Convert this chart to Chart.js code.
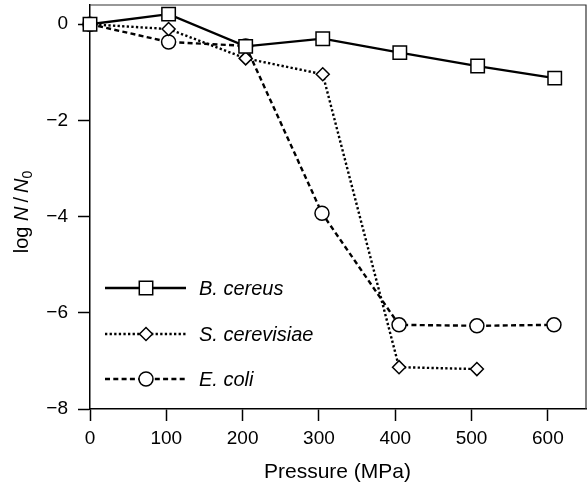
<!DOCTYPE html>
<html><head><meta charset="utf-8">
<script src="https://cdn.jsdelivr.net/npm/chart.js@4/dist/chart.umd.min.js"></script>
<style>html,body{margin:0;padding:0;background:#fff}canvas{display:block}</style>
</head><body>
<canvas id="c" width="587" height="483"></canvas>
<script>
const seriesNames = ['B. cereus', 'S. cerevisiae', 'E. coli'];
const bcPressure = [0, 103, 204, 305, 406, 508, 609];
const bcLogN     = [0, 0.21, -0.46, -0.30, -0.59, -0.87, -1.12];
const scPressure = [0, 103, 204, 305, 405, 507];
const scLogN     = [0, -0.10, -0.71, -1.04, -7.13, -7.17];
const ecPressure = [0, 103, 204, 304, 405, 507, 608];
const ecLogN     = [0, -0.37, -0.45, -3.93, -6.25, -6.27, -6.25];
const xTicks = [0, 100, 200, 300, 400, 500, 600];
const yTicks = [-8, -6, -4, -2, 0];

const FONT = '"Liberation Sans", Arial, sans-serif';
const pts = (xs, ys) => xs.map((x, i) => ({x: x, y: ys[i]}));

const styles = [
  {dash: [], style: 'rect', r: 9.5},
  {dash: [2.3, 2.3], style: 'rectRot', r: 6.5},
  {dash: [5, 3.3], style: 'circle', r: 7}
];
const series = [pts(bcPressure, bcLogN), pts(scPressure, scLogN), pts(ecPressure, ecLogN)];

const datasets = series.map((d, i) => ({
  label: seriesNames[i],
  data: d,
  borderColor: '#000',
  borderWidth: 2.4,
  borderDash: styles[i].dash,
  pointStyle: styles[i].style,
  pointRadius: styles[i].r,
  pointHoverRadius: styles[i].r,
  pointBackgroundColor: '#fff',
  pointBorderColor: '#000',
  pointBorderWidth: 1.5,
  fill: false,
  tension: 0,
  clip: false
}));

function drawMarker(ctx, style, x, y, r) {
  ctx.beginPath();
  if (style === 'rect') {
    const s = r * Math.SQRT1_2;
    ctx.rect(x - s, y - s, 2 * s, 2 * s);
  } else if (style === 'rectRot') {
    ctx.moveTo(x - r, y); ctx.lineTo(x, y - r); ctx.lineTo(x + r, y); ctx.lineTo(x, y + r); ctx.closePath();
  } else {
    ctx.arc(x, y, r, 0, Math.PI * 2);
  }
  ctx.fillStyle = '#fff'; ctx.fill();
  ctx.lineWidth = 1.5; ctx.strokeStyle = '#000'; ctx.setLineDash([]); ctx.stroke();
}

const framePlugin = {
  id: 'frame',
  beforeDatasetsDraw(chart) {
    const {ctx, chartArea: a} = chart;
    ctx.save();
    ctx.strokeStyle = '#333'; ctx.lineWidth = 1.2;
    ctx.beginPath();
    ctx.moveTo(a.left, a.top); ctx.lineTo(a.right, a.top); ctx.lineTo(a.right, a.bottom);
    ctx.stroke();
    ctx.restore();
  }
};

const legendPlugin = {
  id: 'inlegend',
  afterDatasetsDraw(chart) {
    const ctx = chart.ctx;
    const rows = [288, 334, 379];
    ctx.save();
    chart.data.datasets.forEach((ds, i) => {
      const y = rows[i];
      ctx.beginPath();
      ctx.setLineDash(ds.borderDash);
      ctx.lineWidth = 2.4; ctx.strokeStyle = '#000';
      ctx.moveTo(105, y); ctx.lineTo(186, y); ctx.stroke();
      drawMarker(ctx, ds.pointStyle, 146, y, ds.pointRadius);
      ctx.setLineDash([]);
      ctx.fillStyle = '#000';
      ctx.font = 'italic 20px ' + FONT;
      ctx.textBaseline = 'middle'; ctx.textAlign = 'left';
      ctx.fillText(ds.label, 199, y + 1);
    });
    ctx.restore();
  }
};

const titlesPlugin = {
  id: 'titles',
  afterDraw(chart) {
    const ctx = chart.ctx;
    ctx.save();
    ctx.fillStyle = '#000';
    ctx.font = '21px ' + FONT;
    ctx.textAlign = 'center'; ctx.textBaseline = 'alphabetic';
    ctx.fillText('Pressure (MPa)', 337.5, 478);
    const parts = [
      {t: 'log ', f: '20px ' + FONT, dy: 0},
      {t: 'N', f: 'italic 20px ' + FONT, dy: 0},
      {t: '\u2009/\u2009', f: '20px ' + FONT, dy: 0},
      {t: 'N', f: 'italic 20px ' + FONT, dy: 0},
      {t: '0', f: '14px ' + FONT, dy: 4}
    ];
    let w = 0;
    parts.forEach(p => { ctx.font = p.f; p.w = ctx.measureText(p.t).width; w += p.w; });
    ctx.translate(28, 212);
    ctx.rotate(-Math.PI / 2);
    ctx.textAlign = 'left';
    let x = -w / 2;
    parts.forEach(p => { ctx.font = p.f; ctx.fillText(p.t, x, p.dy); x += p.w; });
    ctx.restore();
  }
};

const fmt = v => (v < 0 ? '\u2212' + Math.abs(v) : String(v));

new Chart(document.getElementById('c'), {
  type: 'line',
  data: {datasets: datasets},
  options: {
    responsive: false,
    animation: false,
    devicePixelRatio: 1,
    layout: {autoPadding: false, padding: {top: 5, right: 1, left: 0, bottom: 0}},
    plugins: {legend: {display: false}, tooltip: {enabled: false}},
    scales: {
      x: {
        type: 'linear', min: 0, max: 650,
        afterBuildTicks: s => { s.ticks = xTicks.map(v => ({value: v})); },
        afterFit: s => { s.height = 74; s.paddingLeft = 0; s.paddingRight = 0; },
        ticks: {callback: fmt, color: '#000', font: {family: FONT, size: 19}, padding: 6, maxRotation: 0},
        grid: {display: true, drawOnChartArea: false, drawTicks: true, tickLength: 12, tickColor: '#000', tickWidth: 1.5},
        border: {display: true, color: '#000', width: 1.5}
      },
      y: {
        type: 'linear', min: -8, max: 0.4,
        afterBuildTicks: s => { s.ticks = yTicks.map(v => ({value: v})); },
        afterFit: s => { s.width = 90; s.paddingTop = 0; s.paddingBottom = 0; },
        ticks: {callback: fmt, color: '#000', font: {family: FONT, size: 19}, padding: 10},
        grid: {display: true, drawOnChartArea: false, drawTicks: true, tickLength: 12, tickColor: '#000', tickWidth: 1.5},
        border: {display: true, color: '#000', width: 1.5}
      }
    }
  },
  plugins: [framePlugin, legendPlugin, titlesPlugin]
});
</script>
</body></html>
